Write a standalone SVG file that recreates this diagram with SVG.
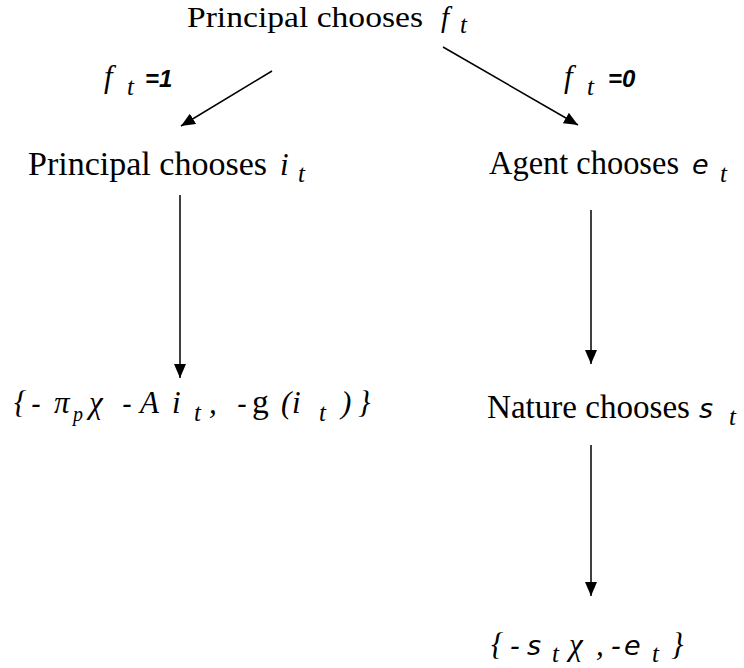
<svg xmlns="http://www.w3.org/2000/svg" width="744" height="668" viewBox="0 0 744 668">
<defs>
<marker id="ah" viewBox="0 0 14 12" refX="14" refY="6" markerWidth="14" markerHeight="12" markerUnits="userSpaceOnUse" orient="auto">
<path d="M0,0 L14,6 L0,12 Z" fill="#000"/>
</marker>
<style>
.t{font-family:"Liberation Serif","Times New Roman",serif;font-size:33.5px;fill:#000}
.m{font-family:"Liberation Serif","Times New Roman",serif;font-style:italic;font-size:31px;fill:#000}
.ms{font-family:"DejaVu Sans",Verdana,sans-serif;font-style:oblique;font-size:27px;fill:#000}
.sub{font-family:"Liberation Serif","Times New Roman",serif;font-style:italic;font-size:25px;fill:#000}
.lbl{font-family:"Liberation Sans",Arial,sans-serif;font-style:italic;font-weight:bold;font-size:24px;fill:#000}
.c{stroke:#000;stroke-width:1.5;fill:none;marker-end:url(#ah)}
</style>
</defs>
<rect width="744" height="668" fill="#fff"/>
<g id="n-root">
<text class="t" x="187" y="27" style="font-size:30px" textLength="236" lengthAdjust="spacingAndGlyphs">Principal chooses</text>
<text class="m" x="441" y="27" style="font-size:29px">f</text>
<text class="sub" x="460" y="33">t</text>
</g>
<g id="l-f1">
<text class="m" x="104" y="87">f</text>
<text class="sub" x="127" y="95">t</text>
<text class="lbl" x="145" y="87">=1</text>
</g>
<g id="l-f0">
<text class="m" x="564" y="87">f</text>
<text class="sub" x="587" y="95">t</text>
<text class="lbl" x="608" y="87">=0</text>
</g>
<g id="n-pi">
<text class="t" x="28" y="175" textLength="239" lengthAdjust="spacingAndGlyphs">Principal chooses</text>
<text class="m" x="280" y="175">i</text>
<text class="sub" x="298" y="182">t</text>
</g>
<g id="n-ae">
<text class="t" x="489" y="174" textLength="190" lengthAdjust="spacingAndGlyphs">Agent chooses</text>
<text class="ms" x="692" y="174">e</text>
<text class="sub" x="720" y="182">t</text>
</g>
<g id="n-pay1">
<text class="m" x="14" y="413">{</text>
<text class="ms" x="31" y="413">-</text>
<text class="m" x="54" y="413">π</text>
<text class="sub" x="73" y="421" style="font-size:20px">p</text>
<text class="m" x="89" y="413">χ</text>
<text class="ms" x="122" y="413">-</text>
<text class="m" x="140" y="413">A</text>
<text class="m" x="172" y="413">i</text>
<text class="sub" x="194" y="421">t</text>
<text class="m" x="209" y="413">,</text>
<text class="ms" x="237" y="413">-</text>
<text class="t" x="252" y="413">g</text>
<text class="m" x="281" y="413">(</text>
<text class="m" x="292" y="413">i</text>
<text class="sub" x="319" y="421">t</text>
<text class="m" x="341" y="413">)</text>
<text class="m" x="358" y="413">}</text>
</g>
<g id="n-ns">
<text class="t" x="487" y="418" textLength="203" lengthAdjust="spacingAndGlyphs">Nature chooses</text>
<text class="ms" x="699" y="418">s</text>
<text class="sub" x="729" y="425">t</text>
</g>
<g id="n-pay2">
<text class="m" x="491" y="655">{</text>
<text class="ms" x="510" y="655">-</text>
<text class="ms" x="527" y="655">s</text>
<text class="sub" x="552" y="662">t</text>
<text class="m" x="569" y="655">χ</text>
<text class="m" x="596" y="655">,</text>
<text class="ms" x="611" y="655">-</text>
<text class="ms" x="624" y="655">e</text>
<text class="sub" x="652" y="662">t</text>
<text class="m" x="671" y="655">}</text>
</g>
<g id="connectors">
<line class="c" x1="272" y1="71" x2="181" y2="126"/>
<line class="c" x1="443" y1="47" x2="578" y2="125"/>
<line class="c" x1="180" y1="195" x2="180" y2="378"/>
<line class="c" x1="591" y1="210" x2="591" y2="364"/>
<line class="c" x1="591" y1="445" x2="591" y2="596"/>
</g>
</svg>
